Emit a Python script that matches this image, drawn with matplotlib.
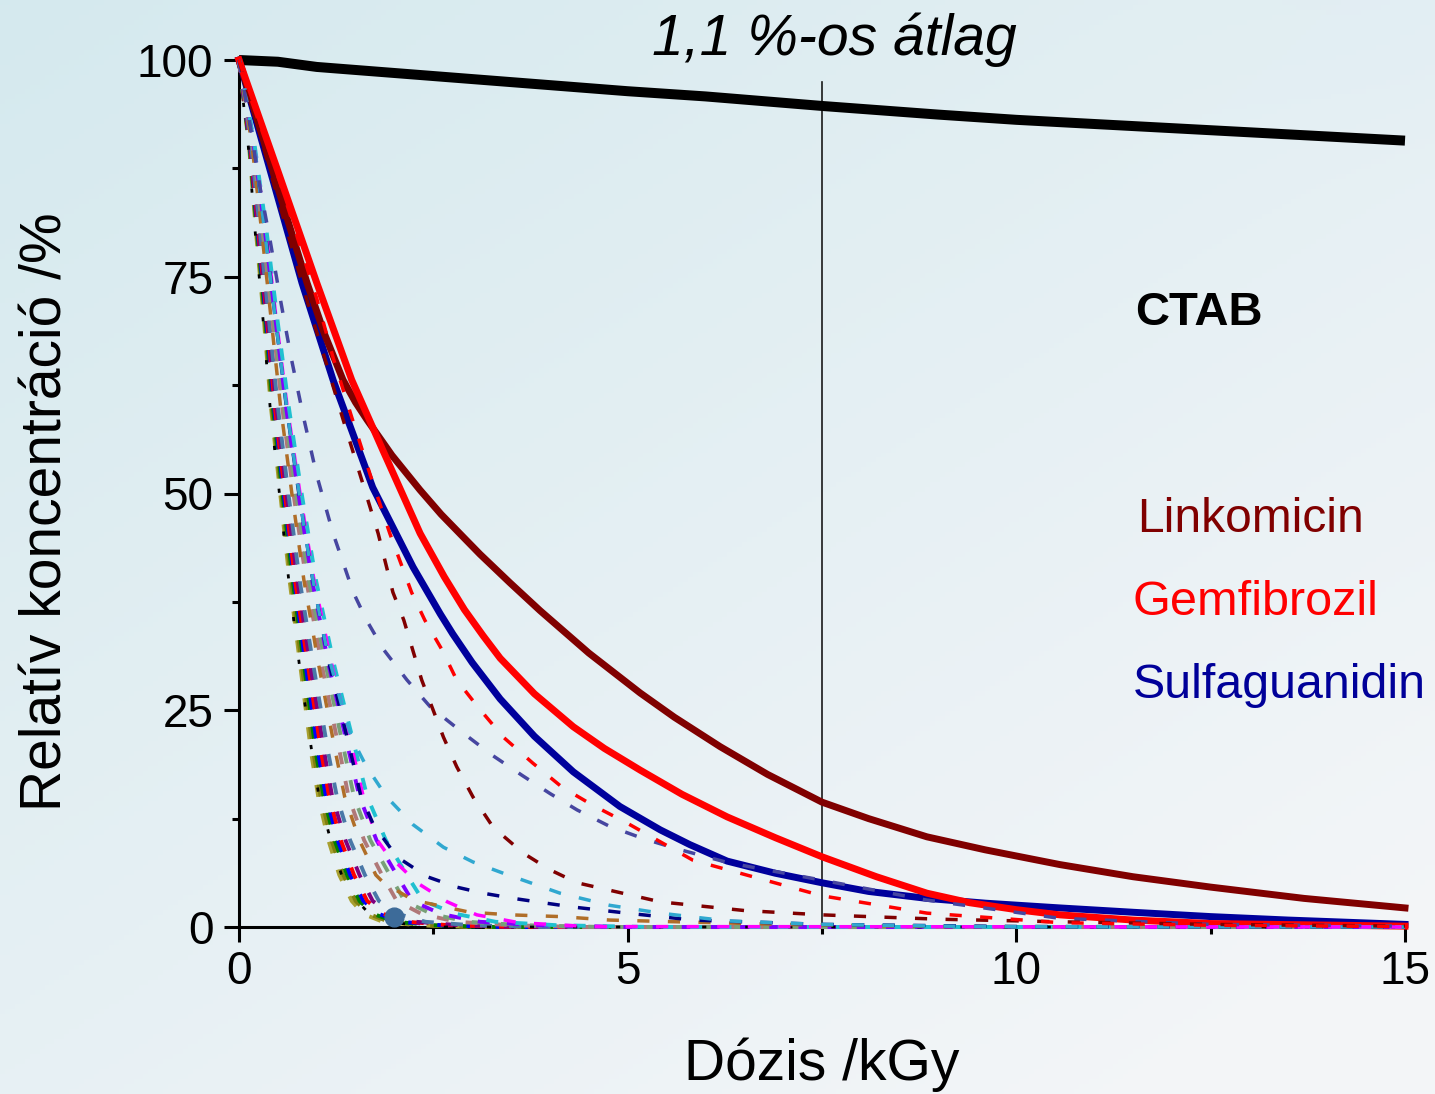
import numpy as np
import matplotlib
matplotlib.use("Agg")
import matplotlib.pyplot as plt
from matplotlib.ticker import MultipleLocator

plt.rcParams['font.family'] = ['Liberation Sans', 'DejaVu Sans']

# ---------------- data ----------------
CTAB_X = [0, 0.5, 1, 2, 3, 4, 5, 6, 7.5, 9, 10, 12.5, 15]
CTAB_Y = [100, 99.8, 99.2, 98.5, 97.8, 97.1, 96.4, 95.8, 94.7, 93.7, 93.1, 91.9, 90.7]

LINK_X = [0, 0.3, 0.6, 0.875, 1.1, 1.338, 1.5, 1.647, 1.968, 2.329, 2.6, 2.882, 3.1, 3.486, 3.872,
          4.5, 5.16, 5.6, 6.19, 6.8, 7.5, 8.1, 8.85, 9.6, 10.56, 11.5, 12.5, 13.7, 15]
LINK_Y = [100, 91.2, 82.3, 74.3, 68.4, 63.1, 60.5, 58.5, 54.4, 50.4, 47.6, 45.0, 43.0, 39.7, 36.5,
          31.6, 27.0, 24.2, 20.8, 17.6, 14.4, 12.5, 10.4, 8.9, 7.2, 5.8, 4.6, 3.3, 2.2]

GEM_X = [0, 0.5, 1.0, 1.45, 1.85, 2.1, 2.33, 2.64, 2.9, 3.14, 3.36, 3.8, 4.3, 4.7, 5.16, 5.7, 6.28,
         6.9, 7.5, 8.2, 8.85, 9.4, 10.0, 10.56, 11.5, 12.5, 15]
GEM_Y = [100, 87.2, 74.3, 63.1, 55.0, 50.0, 45.4, 40.4, 36.6, 33.6, 31.0, 26.9, 23.1, 20.6, 18.1, 15.3, 12.7,
         10.3, 8.1, 5.8, 3.9, 2.8, 2.0, 1.4, 0.8, 0.4, 0.1]

SULF_X = [0, 0.4, 0.81, 1.21, 1.72, 2.24, 2.59, 2.75, 3.0, 3.36, 3.8, 4.3, 4.9, 5.42, 5.8, 6.28,
          6.9, 7.5, 8.1, 8.85, 9.6, 10.56, 11.5, 12.5, 13.5, 15]
SULF_Y = [100, 87.3, 74.3, 63.1, 50.7, 41.5, 36.1, 33.8, 30.5, 26.3, 22.0, 17.9, 13.9, 11.2, 9.5, 7.6,
          6.2, 5.1, 4.1, 3.3, 2.75, 2.2, 1.7, 1.2, 0.8, 0.3]

# dashed curves (single compounds)
DRED_X = [0, 0.5, 0.9, 1.1, 1.33, 1.56, 1.79, 1.98, 2.12, 2.35, 2.63, 2.8, 3.01, 3.27, 3.66, 4.0, 4.35, 5.42, 6.5, 7.5, 9, 10.56, 12.5, 15]
DRED_Y = [100, 84, 71.5, 65.7, 58.8, 52.1, 45.4, 38.6, 35.4, 28.5, 21.9, 18.5, 15.0, 11.5, 8.5, 6.6, 5.1, 2.9, 1.9, 1.4, 0.9, 0.6, 0.3, 0.1]

RED_X = [0, 0.53, 1.0, 1.21, 1.45, 1.69, 1.94, 2.22, 2.39, 2.61, 2.8, 3.08, 3.4, 3.78, 4.16, 4.54, 4.99, 5.84, 7.5, 8.85, 10.56, 12.5, 15]
RED_Y = [100, 85.8, 72.5, 65.7, 58.8, 52.1, 45.4, 38.6, 35.4, 32.0, 28.5, 25.3, 21.9, 18.9, 16.1, 14.1, 12.0, 7.7, 3.6, 1.6, 0.5, 0.2, 0.05]

SLATE_X = [0, 0.14, 0.26, 0.4, 0.53, 0.67, 0.83, 1.0, 1.21, 1.47, 1.64, 1.86, 2.16, 2.46, 2.88, 3.26, 3.64, 4.0, 4.35, 4.77, 5.2, 5.64, 6.3, 7.5, 8.85, 10.56, 12.5, 15]
SLATE_Y = [100, 92.7, 85.8, 79.2, 72.5, 65.7, 58.8, 52.1, 45.4, 38.6, 35.4, 32.0, 28.5, 25.4, 22.4, 19.8, 17.5, 15.4, 13.5, 11.6, 10.2, 9.0, 7.4, 5.4, 3.1, 1.0, 0.3, 0.1]

SKY_X = [0, 0.09, 0.2, 0.3, 0.47, 0.63, 0.74, 0.85, 0.98, 1.13, 1.33, 1.45, 1.64, 1.9, 2.24, 2.63, 3.01, 3.4, 3.75, 4.13, 4.77, 5.42, 6.28, 7.5, 9.5, 15]
SKY_Y = [100, 96, 90, 82.5, 70, 58.8, 52.1, 45.4, 38.6, 32.0, 25.3, 21.8, 18.5, 15.0, 11.8, 9.2, 7.5, 6.2, 5.1, 3.9, 2.5, 1.6, 0.7, 0.3, 0.05, 0]

NAVY_X = [0, 0.082, 0.194, 0.34, 0.47, 0.61, 0.77, 0.95, 1.17, 1.44, 1.57, 1.73, 2.03, 2.42, 2.8, 3.14, 3.53, 3.91, 4.3, 4.99, 5.84, 7.5, 10, 15]
NAVY_Y = [100, 96, 90, 80, 70, 60, 50, 40, 30, 20, 15, 11.8, 8.1, 5.8, 4.6, 3.9, 3.3, 2.8, 2.3, 1.6, 0.8, 0.3, 0.05, 0]

BROWN_X = [0, 0.07, 0.17, 0.295, 0.415, 0.535, 0.68, 0.835, 1.03, 1.245, 1.36, 1.55, 1.76, 1.86, 2.24, 2.97, 3.5, 4.13, 4.77, 5.64, 7.0, 9.0, 15]
BROWN_Y = [100, 96, 90, 80, 70, 60, 50, 40, 30, 20, 15, 10, 6, 5.1, 3.1, 1.7, 1.4, 1.2, 0.8, 0.6, 0.3, 0.05, 0]

MAG_X = [0, 0.084, 0.198, 0.35, 0.48, 0.62, 0.785, 0.965, 1.2, 1.47, 1.6, 1.78, 1.9, 2.29, 2.68, 3.06, 3.6, 4.5, 15]
MAG_Y = [100, 96, 90, 80, 70, 60, 50, 40, 30, 20, 15, 10, 8.5, 5.1, 2.9, 1.4, 0.5, 0.05, 0]

# fast-decaying bundle: shared concentration levels, dose per compound
FAST_Y = [100, 96, 90, 80, 70, 60, 50, 40, 30, 20, 15, 10, 6, 3, 1.5, 0.6, 0.2, 0, 0]
FAST_OLIVE_LT = [0, 0.05, 0.13, 0.22, 0.32, 0.41, 0.53, 0.65, 0.79, 0.93, 1.02, 1.15, 1.29, 1.45, 1.6, 1.85, 2.3, 3.0, 15]
FAST_OLIVE = [0, 0.052, 0.134, 0.228, 0.33, 0.42, 0.545, 0.67, 0.81, 0.96, 1.05, 1.19, 1.34, 1.5, 1.67, 1.93, 2.4, 3.1, 15]
FAST_GREEN = [0, 0.054, 0.138, 0.235, 0.34, 0.435, 0.56, 0.69, 0.84, 0.99, 1.09, 1.23, 1.39, 1.55, 1.73, 2.01, 2.5, 3.25, 15]
FAST_BLUE = [0, 0.056, 0.142, 0.242, 0.35, 0.45, 0.575, 0.71, 0.86, 1.02, 1.12, 1.27, 1.43, 1.6, 1.8, 2.09, 2.6, 3.4, 15]
FAST_RED = [0, 0.058, 0.146, 0.25, 0.36, 0.46, 0.59, 0.72, 0.89, 1.06, 1.16, 1.31, 1.48, 1.65, 1.86, 2.17, 2.7, 3.5, 15]
FAST_PURPLE = [0, 0.061, 0.152, 0.26, 0.37, 0.48, 0.61, 0.75, 0.92, 1.1, 1.2, 1.37, 1.55, 1.72, 1.95, 2.28, 2.84, 3.7, 15]
FAST_STEEL = [0, 0.064, 0.158, 0.272, 0.386, 0.50, 0.635, 0.78, 0.96, 1.15, 1.26, 1.43, 1.62, 1.8, 2.05, 2.4, 3.0, 3.9, 15]
FAST_ROSY = [0, 0.073, 0.176, 0.307, 0.43, 0.555, 0.70, 0.865, 1.07, 1.3, 1.41, 1.61, 1.84, 2.03, 2.35, 2.8, 3.5, 4.4, 15]
FAST_GRAYGREEN = [0, 0.077, 0.184, 0.322, 0.45, 0.58, 0.734, 0.9, 1.12, 1.36, 1.48, 1.69, 1.94, 2.13, 2.48, 2.94, 3.66, 4.7, 15]
FAST_VIOLET = [0, 0.081, 0.192, 0.337, 0.47, 0.605, 0.764, 0.94, 1.16, 1.42, 1.55, 1.77, 2.03, 2.23, 2.6, 3.1, 3.86, 5.0, 15]
FAST_TURQ = [0, 0.087, 0.204, 0.358, 0.495, 0.64, 0.806, 0.99, 1.23, 1.51, 1.65, 1.89, 2.16, 2.37, 2.8, 3.3, 4.1, 5.3, 15]
FAST_BLACK = [0, 0.045, 0.12, 0.21, 0.31, 0.40, 0.52, 0.64, 0.78, 0.94, 1.03, 1.18, 1.32, 1.52, 1.68, 1.9, 2.3, 2.6, 15]

POINT_X = [2.0]
POINT_Y = [1.15]

X_TICKS = [0, 5, 10, 15]
Y_TICKS = [0, 25, 50, 75, 100]

LABELS = ["CTAB", "Linkomicin", "Gemfibrozil", "Sulfaguanidin"]
LABEL_POS = [(11.53, 69.4), (11.55, 45.6), (11.5, 36.0), (11.5, 26.4)]

# ---------------- figure ----------------
W, H = 1435, 1094
fig = plt.figure(figsize=(W / 100, H / 100), dpi=100)

# background gradient
bg = fig.add_axes([0, 0, 1, 1], zorder=-10)
yy, xx = np.mgrid[0:1:220j, 0:1:290j]
t = np.clip(0.6 * yy + 0.5 * xx, 0, 1)
c0 = np.array([0.835, 0.915, 0.935])
c1 = np.array([0.955, 0.962, 0.972])
img = c0[None, None, :] * (1 - t[..., None]) + c1[None, None, :] * t[..., None]
glow = np.exp(-(((xx - 0.97) / 0.12) ** 2 + ((yy - 0.0) / 0.1) ** 2))
img = img * (1 - 0.25 * glow[..., None]) + 0.25 * glow[..., None] * np.array([0.87, 0.92, 0.955])
bg.imshow(img, aspect='auto', extent=[0, 1, 0, 1], origin='upper')
bg.set_axis_off()

left, right = 239 / W, 1405 / W
bottom, top = (H - 927) / H, (H - 60) / H
ax = fig.add_axes([left, bottom, right - left, top - bottom])
ax.patch.set_alpha(0)
ax.set_xlim(0, 15)
ax.set_ylim(0, 100)

for s in ['top', 'right']:
    ax.spines[s].set_visible(False)
for s in ['left', 'bottom']:
    ax.spines[s].set_linewidth(2.2)
    ax.spines[s].set_zorder(1)

ax.set_xticks(X_TICKS)
ax.set_yticks(Y_TICKS)
ax.xaxis.set_minor_locator(MultipleLocator(2.5))
ax.yaxis.set_minor_locator(MultipleLocator(12.5))
ax.tick_params(which='major', length=10.5, width=2.2, direction='out', labelsize=33)
ax.tick_params(which='minor', length=5.2, width=2.2, direction='out')
ax.tick_params(axis='x', which='major', pad=6)
ax.tick_params(axis='y', which='major', pad=8)

# vertical marker line
ax.plot([7.5, 7.5], [0, 97.5], color='#1a1a1a', lw=1.2, zorder=2, clip_on=False)

# solid curves
ax.plot(CTAB_X, CTAB_Y, color='black', lw=7.2, zorder=3, clip_on=False, solid_capstyle='butt')
ax.plot(SULF_X, SULF_Y, color='#00009c', lw=5.0, zorder=4, clip_on=False, solid_joinstyle='round')
ax.plot(LINK_X, LINK_Y, color='#800000', lw=5.0, zorder=4, clip_on=False, solid_joinstyle='round')
ax.plot(GEM_X, GEM_Y, color='#ff0000', lw=5.0, zorder=4.5, clip_on=False, solid_joinstyle='round')

# fast bundle
fast = [
    (FAST_OLIVE_LT, '#a8a030'), (FAST_OLIVE, '#7f7f10'), (FAST_GREEN, '#008000'),
    (FAST_BLUE, '#0000ff'), (FAST_RED, '#ff0000'), (FAST_PURPLE, '#800080'),
    (FAST_STEEL, '#4a78a8'), (FAST_ROSY, '#b07878'), (FAST_GRAYGREEN, '#78a078'),
    (FAST_VIOLET, '#8000ff'), (FAST_TURQ, '#20c0d0'),
]
for xs, col in fast:
    ax.plot(xs, FAST_Y, color=col, lw=2.8, ls=(0, (3.1, 4.4)), zorder=5, clip_on=False)
ax.plot(FAST_BLACK, FAST_Y, color='black', lw=2.0, ls=(0, (1.5, 14)), zorder=5, clip_on=False)

# single dashed curves
dash = (0, (3.5, 5.3))
for xs, ys, col in [
    (BROWN_X, BROWN_Y, '#b06e28'), (MAG_X, MAG_Y, '#ff00ff'), (NAVY_X, NAVY_Y, '#000080'),
    (SKY_X, SKY_Y, '#30a8d0'), (SLATE_X, SLATE_Y, '#4646a0'),
    (DRED_X, DRED_Y, '#800000'), (RED_X, RED_Y, '#ff0000'),
]:
    ax.plot(xs, ys, color=col, lw=2.5, ls=dash, zorder=6, clip_on=False)

ax.plot(POINT_X, POINT_Y, 'o', color='#3d6b99', ms=13.5, zorder=7, clip_on=False)

# labels of compounds
colors_lab = ['black', '#800000', '#ff0000', '#000099']
sizes_lab = [34, 34.5, 35, 34.8]
for txt, (x, y), col, fs in zip(LABELS, LABEL_POS, colors_lab, sizes_lab):
    ax.text(x, y, txt, color=col, fontsize=fs,
            fontweight='bold' if txt == 'CTAB' else 'normal',
            ha='left', va='baseline', zorder=8)

# axis titles
fig.text(822 / W, (H - 1080) / H, 'Dózis /kGy', fontsize=41, ha='center', va='baseline')
fig.text(62 / W, (H - 512) / H, 'Relatív koncentráció /%', fontsize=41, rotation=90,
         rotation_mode='anchor', ha='center', va='baseline')
fig.text(834 / W, (H - 55) / H, '1,1 %-os átlag', fontsize=41, style='italic',
         ha='center', va='baseline')

fig.savefig('out.png', dpi=100)
